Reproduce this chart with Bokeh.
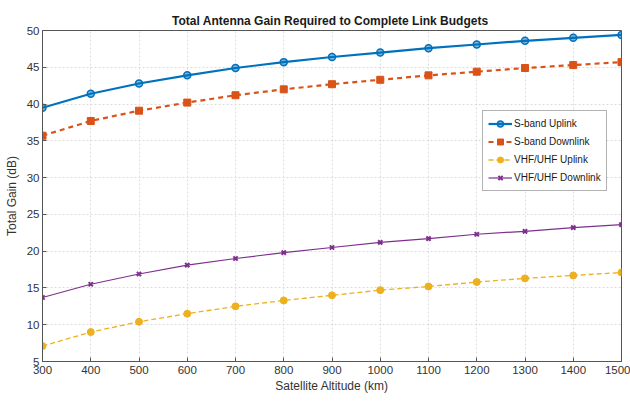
from bokeh.plotting import figure
from bokeh.models import Range1d, FixedTicker, Legend, LegendItem, Title
from bokeh.embed import file_html
from bokeh.resources import INLINE

altitude = [300, 400, 500, 600, 700, 800, 900, 1000, 1100, 1200, 1300, 1400, 1500]
s_uplink = [39.5, 41.4, 42.8, 43.9, 44.9, 45.7, 46.4, 47.0, 47.6, 48.1, 48.6, 49.0, 49.4]
s_downlink = [35.7, 37.7, 39.1, 40.2, 41.2, 42.0, 42.7, 43.3, 43.9, 44.4, 44.9, 45.3, 45.7]
vhf_uplink = [7.1, 9.0, 10.4, 11.5, 12.5, 13.3, 14.0, 14.7, 15.2, 15.8, 16.3, 16.7, 17.1]
vhf_downlink = [13.7, 15.5, 16.9, 18.1, 19.0, 19.8, 20.5, 21.2, 21.7, 22.3, 22.7, 23.2, 23.6]
x_ticks = list(range(300, 1501, 100))
y_ticks = list(range(5, 51, 5))

FONT = "Liberation Sans"

p = figure(width=630, height=403, output_backend="svg", toolbar_location=None,
           x_range=Range1d(300, 1500), y_range=Range1d(5, 50),
           min_border_left=42, min_border_right=9, min_border_top=30, min_border_bottom=42)
p.title = Title(text="Total  Antenna Gain Required to Complete Link Budgets",
                align="center", text_font=FONT, text_font_size="12px",
                text_font_style="bold", text_color="#1a1a1a", offset=0, standoff=6)

for ax in (p.xaxis[0], p.yaxis[0]):
    ax.major_label_text_font = FONT
    ax.major_label_text_font_size = "11.5px"
    ax.major_label_text_color = "#333333"
    ax.axis_label_text_font = FONT
    ax.axis_label_text_font_size = "12px"
    ax.axis_label_text_font_style = "normal"
    ax.axis_label_text_color = "#333333"
    ax.axis_line_color = "#555555"
    ax.major_tick_line_color = "#555555"
    ax.major_tick_in = 4
    ax.major_tick_out = 0
    ax.minor_tick_line_color = None

p.xaxis.ticker = FixedTicker(ticks=x_ticks)
p.yaxis.ticker = FixedTicker(ticks=y_ticks)
p.xaxis.axis_label = "Satellite Altitude (km)"
p.yaxis.axis_label = "Total Gain (dB)"
p.xaxis.major_label_standoff = 4
p.yaxis.major_label_standoff = 3
p.xaxis.axis_label_standoff = 2
p.yaxis.axis_label_standoff = 5

p.xgrid.grid_line_color = "#dcdcdc"
p.ygrid.grid_line_color = "#dcdcdc"
p.xgrid.grid_line_dash = "2 2"
p.ygrid.grid_line_dash = "2 2"
p.outline_line_color = "#555555"
p.outline_line_width = 1

c1, c2, c3, c4 = "#0072BD", "#D95319", "#EDB120", "#7E2F8E"

l1 = p.line(altitude, s_uplink, color=c1, line_width=2.2)
m1 = p.scatter(altitude, s_uplink, marker="circle", size=7, line_color=c1, fill_color=c1,
               fill_alpha=0.5, line_width=1.5)
l2 = p.line(altitude, s_downlink, color=c2, line_width=2.2, line_dash="5 4")
m2 = p.scatter(altitude, s_downlink, marker="square", size=7, color=c2)
l3 = p.line(altitude, vhf_uplink, color=c3, line_width=1.3, line_dash="5 3")
m3 = p.scatter(altitude, vhf_uplink, marker="circle", size=7, color=c3)
l4 = p.line(altitude, vhf_downlink, color=c4, line_width=1.2)
m4 = p.scatter(altitude, vhf_downlink, marker="x", size=6, color=c4, line_width=2)

legend = Legend(items=[
    LegendItem(label="S-band Uplink", renderers=[l1, m1]),
    LegendItem(label="S-band Downlink", renderers=[l2, m2]),
    LegendItem(label="VHF/UHF Uplink", renderers=[l3, m3]),
    LegendItem(label="VHF/UHF Downlink", renderers=[l4, m4]),
], location=(440, 170))
legend.label_text_font = FONT
legend.label_text_font_size = "10px"
legend.label_text_color = "#1a1a1a"
legend.glyph_height = 15
legend.glyph_width = 24
legend.label_height = 15
legend.spacing = 3
legend.padding = 5
legend.margin = 0
legend.label_standoff = 2
legend.border_line_color = "#666666"
legend.background_fill_color = "white"
legend.background_fill_alpha = 1
p.add_layout(legend, "center")

open("out.html", "w").write(file_html(p, INLINE))
